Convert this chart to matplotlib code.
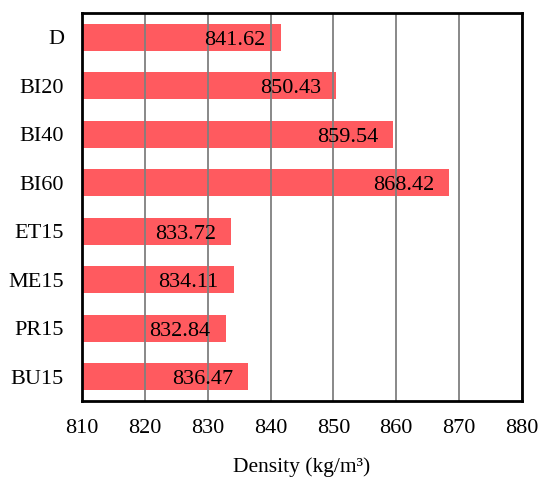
import matplotlib
matplotlib.use("Agg")
import matplotlib.pyplot as plt

# Fuel blends and measured density (kg/m3)
blends = ["D", "BI20", "BI40", "BI60", "ET15", "ME15", "PR15", "BU15"]
density = [841.62, 850.43, 859.54, 868.42, 833.72, 834.11, 832.84, 836.47]
x_ticks = [810, 820, 830, 840, 850, 860, 870, 880]

plt.rcParams["font.family"] = ["Liberation Serif", "DejaVu Serif"]

fig = plt.figure(figsize=(5.39, 4.78), dpi=100)
ax = fig.add_axes([82 / 539, 1 - 401 / 478, 440 / 539, 388 / 478])

pos = list(range(len(blends)))
ax.barh(pos, [d - 810 for d in density], left=810, height=0.56,
        color="#FF5A5F", zorder=1)

for y, d in zip(pos, density):
    ax.annotate(f"{d:.2f}", xy=(d, y), xytext=(-11, -2), textcoords="offset points",
                ha="right", va="center", fontsize=16, color="black", zorder=3)

ax.set_xlim(810, 880)
ax.set_ylim(len(blends) - 0.5, -0.5)
ax.set_xticks(x_ticks)
ax.set_yticks(pos)
ax.set_yticklabels(blends)
ax.tick_params(axis="both", length=0, labelsize=16)
ax.tick_params(axis="x", pad=13)
ax.tick_params(axis="y", pad=13)

ax.grid(axis="x", color="#7f7f7f", linewidth=1.3, zorder=2)
ax.set_axisbelow(False)
for s in ax.spines.values():
    s.set_linewidth(2)
    s.set_color("black")
    s.set_zorder(4)

ax.set_xlabel("Density (kg/m³)", fontsize=15.5, labelpad=14)

fig.savefig("out.png", dpi=100)
